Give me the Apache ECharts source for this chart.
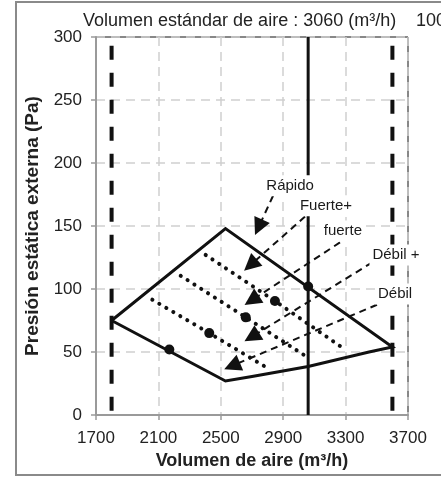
<!DOCTYPE html>
<html><head><meta charset="utf-8">
<script src="https://cdn.jsdelivr.net/npm/echarts@6/dist/echarts.min.js"></script>
<style>html,body{margin:0;padding:0;background:#fff}#c{width:441px;height:477px}</style>
</head><body><div id="c"></div>
<script>
// ---- data ----
const xTicks = [1700, 2100, 2500, 2900, 3300, 3700];
const yTicks = [0, 50, 100, 150, 200, 250, 300];
const envelope = [[1800, 75], [2530, 148], [3600, 54], [3450, 50], [3060, 38.5], [2700, 30.5], [2530, 27], [1800, 75]];
const fuerteMasCurve = [[2403, 127], [2847, 90.5], [3296, 52]];
const fuerteCurve = [[2243, 110.5], [2660, 77.5], [3072, 44.5]];
const debilMasCurve = [[2061, 91.5], [2426, 65], [2796, 37.5]];
const markerPoints = [[2170, 52], [3060, 102], [2847, 90.5], [2660, 77.5], [2426, 65]];
const limitLow = 1800, limitHigh = 3600, limitTop = 293, standardVolume = 3060;
const speedNames = ['Rápido', 'Fuerte+', 'fuerte', 'Débil +', 'Débil'];
const arrowFrom = [[2835, 174], [3040, 157.5], [3264, 137], [3469, 121], [3501, 87.5]];
const arrowTo = [[2742, 149], [2690, 119], [2698, 91], [2698, 62], [2572, 39]];
const labelAt = [[2944, 182], [3174, 166], [3283, 146], [3623, 127], [3617, 96]];
const titleText = 'Volumen estándar de aire : 3060 (m³/h)';
const xName = 'Volumen de aire (m³/h)';
const yName = 'Presión estática externa (Pa)';

// ---- chart ----
const FONT = '"Liberation Sans", Arial, sans-serif';
const chart = echarts.init(document.getElementById('c'), null, {renderer: 'canvas'});
const dotted = {color: '#111', width: 4, type: [0.1, 8], cap: 'round'};
const option = {
  animation: false,
  backgroundColor: '#fff',
  textStyle: {fontFamily: FONT},
  title: {text: titleText, left: 83, top: 12, padding: 0,
    textStyle: {fontSize: 18, fontWeight: 'normal', color: '#222', fontFamily: FONT}},
  graphic: [
    {type: 'rect', z: -10, shape: {x: 16, y: 2, width: 440, height: 473},
      style: {fill: 'none', stroke: '#8a8a8a', lineWidth: 2}},
    {type: 'text', left: 416, top: 12, style: {text: '100', font: '18px ' + FONT, fill: '#222'}}
  ],
  grid: {left: 96, right: 33, top: 37, bottom: 62, show: true, borderColor: '#111', borderWidth: 1, backgroundColor: 'transparent'},
  xAxis: {
    type: 'value', min: xTicks[0], max: xTicks[xTicks.length - 1], interval: 400,
    name: xName, nameLocation: 'middle', nameGap: 27,
    nameTextStyle: {fontSize: 18, fontWeight: 'bold', color: '#222', fontFamily: FONT},
    axisLine: {show: true, lineStyle: {color: '#9a9a9a', width: 2}},
    axisTick: {show: true, length: 5, lineStyle: {color: '#9a9a9a', width: 1.5}},
    axisLabel: {fontSize: 17, color: '#222', margin: 15, formatter: v => String(v)},
    splitLine: {show: true, lineStyle: {color: '#cfcfcf', width: 1.5, type: [9, 6]}}
  },
  yAxis: {
    type: 'value', min: yTicks[0], max: yTicks[yTicks.length - 1], interval: 50,
    name: yName, nameLocation: 'middle', nameGap: 46, nameRotate: 90,
    nameTextStyle: {fontSize: 19, fontWeight: 'bold', color: '#222', fontFamily: FONT},
    axisLine: {show: true, lineStyle: {color: '#9a9a9a', width: 2}},
    axisTick: {show: true, length: 5, lineStyle: {color: '#9a9a9a', width: 1.5}},
    axisLabel: {fontSize: 17, color: '#222', margin: 14, formatter: v => String(v)},
    splitLine: {show: true, lineStyle: {color: '#cfcfcf', width: 1.5, type: [9, 6]}}
  },
  series: [
    {type: 'line', data: [[limitLow, limitTop], [limitLow, 0]], symbol: 'none', z: 3,
      lineStyle: {color: '#111', width: 4, type: [14, 13]}},
    {type: 'line', data: [[limitHigh, limitTop], [limitHigh, 0]], symbol: 'none', z: 3,
      lineStyle: {color: '#111', width: 4, type: [14, 13]}},
    {type: 'line', data: [[standardVolume, 300], [standardVolume, 0]], symbol: 'none', z: 3,
      lineStyle: {color: '#111', width: 3}},
    {type: 'line', data: envelope, symbol: 'none', z: 4,
      lineStyle: {color: '#111', width: 3, join: 'miter'}},
    {type: 'line', data: fuerteMasCurve, symbol: 'none', z: 4, lineStyle: dotted},
    {type: 'line', data: fuerteCurve, symbol: 'none', z: 4, lineStyle: dotted},
    {type: 'line', data: debilMasCurve, symbol: 'none', z: 4, lineStyle: dotted},
    {type: 'scatter', data: markerPoints, symbol: 'circle', symbolSize: 10, z: 5,
      itemStyle: {color: '#111', opacity: 1}},
    {type: 'lines', coordinateSystem: 'cartesian2d', z: 6,
      symbol: ['none', 'triangle'], symbolSize: [14, 17],
      lineStyle: {color: '#111', width: 2, type: [7, 5], opacity: 1},
      data: arrowFrom.map((p, i) => ({coords: [p, arrowTo[i]]}))},
    {type: 'scatter', data: labelAt, symbolSize: 0.1, z: 10,
      itemStyle: {color: 'rgba(0,0,0,0)', opacity: 1},
      label: {show: true, position: 'inside', fontSize: 15, color: '#1a1a1a', fontFamily: FONT,
        backgroundColor: '#fff', padding: [3, 3], opacity: 1,
        formatter: p => speedNames[p.dataIndex]}}
  ]
};
chart.setOption(option);
</script></body></html>
